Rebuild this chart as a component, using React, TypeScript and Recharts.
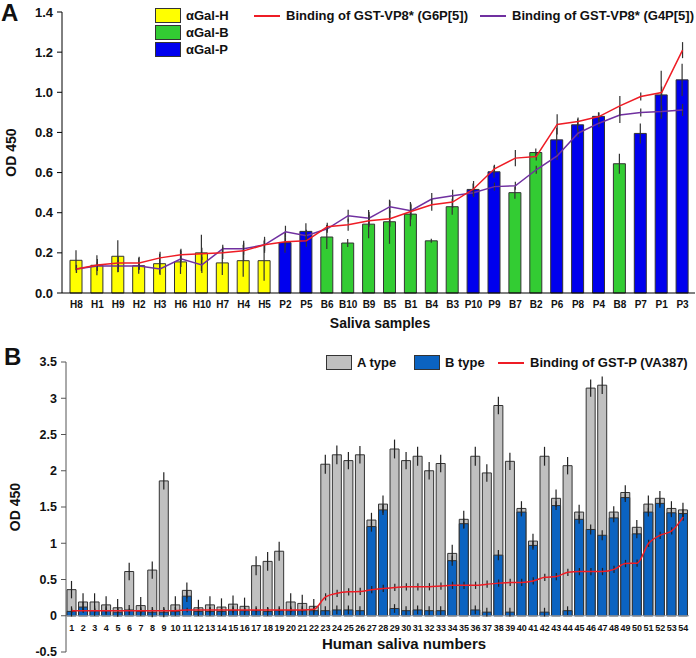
import React from "react";
import { ComposedChart, Bar, Line, XAxis, YAxis, ErrorBar, Cell, ReferenceLine, Label } from "recharts";

// ---- Panel A: saliva samples by alpha-Gal type ----
const samples = ["H8", "H1", "H9", "H2", "H3", "H6", "H10", "H7", "H4", "H5", "P2", "P5", "B6", "B10", "B9", "B5", "B1", "B4", "B3", "P10", "P9", "B7", "B2", "P6", "P8", "P4", "B8", "P7", "P1", "P3"];
const alphaGal = [0.163, 0.138, 0.183, 0.136, 0.146, 0.155, 0.2, 0.15, 0.161, 0.161, 0.251, 0.307, 0.279, 0.249, 0.343, 0.355, 0.393, 0.26, 0.43, 0.516, 0.604, 0.5, 0.7, 0.763, 0.838, 0.88, 0.644, 0.795, 0.987, 1.062];
const alphaGalErr = [0.05, 0.05, 0.08, 0.04, 0.05, 0.06, 0.09, 0.06, 0.08, 0.1, 0.05, 0.04, 0.06, 0.02, 0.07, 0.11, 0.06, 0.01, 0.04, 0.03, 0.03, 0.03, 0.02, 0.06, 0.03, 0.02, 0.05, 0.05, 0.12, 0.08];
const g6p5 = [0.12, 0.14, 0.15, 0.15, 0.175, 0.19, 0.195, 0.2, 0.21, 0.24, 0.255, 0.26, 0.33, 0.34, 0.36, 0.37, 0.406, 0.44, 0.453, 0.518, 0.619, 0.672, 0.68, 0.84, 0.854, 0.879, 0.932, 0.979, 0.999, 1.21];
const g6p5Err = [0.02, 0.03, 0.03, 0.03, 0.03, 0.03, 0.03, 0.03, 0.05, 0.04, 0.02, 0.03, 0.02, 0.03, 0.03, 0.04, 0.04, 0.03, 0.03, 0.04, 0.02, 0.04, 0.02, 0.05, 0.02, 0.02, 0.05, 0.02, 0.03, 0.04];
const g4p5 = [0.12, 0.135, 0.135, 0.135, 0.12, 0.17, 0.14, 0.22, 0.22, 0.24, 0.305, 0.285, 0.32, 0.385, 0.373, 0.43, 0.41, 0.468, 0.484, 0.5, 0.53, 0.534, 0.614, 0.683, 0.796, 0.846, 0.887, 0.899, 0.904, 0.912];
const g4p5Err = [0.02, 0.02, 0.03, 0.02, 0.03, 0.04, 0.04, 0.02, 0.03, 0.03, 0.03, 0.03, 0.02, 0.03, 0.03, 0.03, 0.03, 0.03, 0.03, 0.02, 0.02, 0.02, 0.02, 0.02, 0.02, 0.02, 0.04, 0.02, 0.03, 0.03];
const yTicksA = [0, 0.2, 0.4, 0.6, 0.8, 1.0, 1.2, 1.4];

// ---- Panel B: human saliva numbers ----
const salivaNumbers = ["1", "2", "3", "4", "5", "6", "7", "8", "9", "10", "11", "12", "13", "14", "15", "16", "17", "18", "19", "20", "21", "22", "23", "24", "25", "26", "27", "28", "29", "30", "31", "32", "33", "34", "35", "36", "37", "38", "39", "40", "41", "42", "43", "44", "45", "46", "47", "48", "49", "50", "51", "52", "53", "54"];
const aType = [0.36, 0.19, 0.19, 0.15, 0.11, 0.61, 0.14, 0.63, 1.86, 0.15, 0.35, 0.11, 0.15, 0.12, 0.16, 0.13, 0.69, 0.75, 0.89, 0.19, 0.17, 0.13, 2.09, 2.22, 2.14, 2.22, 1.32, 1.54, 2.3, 2.14, 2.2, 2.0, 2.1, 0.86, 1.33, 2.2, 1.97, 2.9, 2.13, 1.48, 1.03, 2.2, 1.62, 2.07, 1.43, 3.14, 3.18, 1.43, 1.7, 1.22, 1.54, 1.62, 1.48, 1.46];
const aTypeErr = [0.12, 0.12, 0.12, 0.12, 0.12, 0.12, 0.12, 0.12, 0.12, 0.12, 0.11, 0.11, 0.12, 0.12, 0.12, 0.12, 0.13, 0.13, 0.13, 0.12, 0.12, 0.1, 0.13, 0.13, 0.12, 0.12, 0.1, 0.12, 0.13, 0.12, 0.13, 0.12, 0.12, 0.12, 0.12, 0.13, 0.12, 0.12, 0.12, 0.1, 0.1, 0.13, 0.12, 0.12, 0.1, 0.12, 0.12, 0.08, 0.1, 0.1, 0.12, 0.1, 0.1, 0.1];
const bType = [0.06, 0.12, 0.07, 0.07, 0.05, 0.08, 0.06, 0.05, 0.05, 0.06, 0.27, 0.06, 0.06, 0.06, 0.07, 0.07, 0.07, 0.06, 0.07, 0.07, 0.07, 0.07, 0.07, 0.08, 0.08, 0.07, 1.23, 1.46, 0.1, 0.07, 0.08, 0.07, 0.07, 0.76, 1.27, 0.08, 0.05, 0.836, 0.05, 1.43, 0.97, 0.05, 1.52, 0.07, 1.33, 1.19, 1.11, 1.35, 1.63, 1.13, 1.43, 1.55, 1.42, 1.41];
const bTypeErr = [0.07, 0.07, 0.07, 0.06, 0.06, 0.07, 0.06, 0.07, 0.07, 0.06, 0.08, 0.06, 0.06, 0.06, 0.06, 0.06, 0.06, 0.06, 0.06, 0.06, 0.06, 0.06, 0.06, 0.06, 0.06, 0.06, 0.07, 0.07, 0.06, 0.06, 0.06, 0.06, 0.06, 0.07, 0.07, 0.06, 0.06, 0.07, 0.06, 0.06, 0.06, 0.06, 0.06, 0.06, 0.06, 0.07, 0.07, 0.06, 0.06, 0.06, 0.06, 0.06, 0.06, 0.06];
const va387 = [0.07, 0.07, 0.07, 0.07, 0.07, 0.07, 0.07, 0.07, 0.07, 0.07, 0.08, 0.08, 0.08, 0.08, 0.08, 0.08, 0.08, 0.08, 0.08, 0.08, 0.08, 0.09, 0.26, 0.31, 0.33, 0.335, 0.36, 0.376, 0.39, 0.4, 0.4, 0.4, 0.41, 0.42, 0.42, 0.42, 0.436, 0.45, 0.46, 0.46, 0.48, 0.53, 0.54, 0.6, 0.61, 0.61, 0.61, 0.64, 0.72, 0.725, 1.0, 1.11, 1.17, 1.36];
const va387Err = [0.03, 0.03, 0.03, 0.03, 0.03, 0.03, 0.03, 0.03, 0.03, 0.03, 0.03, 0.03, 0.03, 0.03, 0.03, 0.03, 0.03, 0.03, 0.03, 0.03, 0.03, 0.03, 0.05, 0.05, 0.05, 0.05, 0.05, 0.05, 0.05, 0.05, 0.05, 0.05, 0.05, 0.05, 0.05, 0.05, 0.05, 0.05, 0.05, 0.05, 0.05, 0.05, 0.05, 0.05, 0.05, 0.05, 0.05, 0.05, 0.05, 0.05, 0.05, 0.05, 0.05, 0.05];
const yTicksB = [-0.5, 0, 0.5, 1, 1.5, 2, 2.5, 3, 3.5];

const FONT = "Arial, 'Liberation Sans', sans-serif";
const groupColors: Record<string, string> = { H: "#ffff00", B: "#33cc33", P: "#0000ee" };
const RED = "#ee1c25";
const PURPLE = "#7030a0";
const GREY = "#c0c0c0";
const BLUE_B = "#0b63c1";

const dataA = samples.map((name, i) => ({
  name,
  value: alphaGal[i],
  valueErr: alphaGalErr[i],
  g6: g6p5[i],
  g6Err: g6p5Err[i],
  g4: g4p5[i],
  g4Err: g4p5Err[i],
}));

const dataB = salivaNumbers.map((name, i) => ({
  name,
  a: aType[i],
  aErr: aTypeErr[i],
  b: bType[i],
  bErr: bTypeErr[i],
  va: va387[i],
  vaErr: va387Err[i],
}));

// panel B geometry (x labels sit on the zero line, not at the plot bottom)
const B_TOP = 32;
const B_PLOT_H = 290;
const zeroY = B_TOP + (B_PLOT_H * 3.5) / 4;

const SalivaTick = (props: any) => {
  const { x, payload } = props;
  return (
    <text x={x} y={zeroY + 15} textAnchor="middle" fontSize={9} fontWeight="bold" fill="#111" fontFamily={FONT}>
      {payload.value}
    </text>
  );
};

const Box = ({ color }: { color: string }) => (
  <span style={{ display: "inline-block", width: 24, height: 13, background: color, border: "1px solid #333", marginRight: 5 }} />
);
const Dash = ({ color }: { color: string }) => (
  <span style={{ display: "inline-block", width: 26, height: 2, background: color, marginRight: 6, verticalAlign: "middle" }} />
);

const legendText: React.CSSProperties = { fontFamily: FONT, fontWeight: "bold", fontSize: 13, color: "#111", position: "absolute", display: "flex", alignItems: "center", whiteSpace: "nowrap" };

export default function App() {
  return (
    <div style={{ position: "absolute", left: 0, top: 0, width: 696, height: 658, background: "#fff", fontFamily: FONT }}>
      <div style={{ position: "absolute", left: 0, top: 0, width: 696, height: 330 }}>
        <ComposedChart width={696} height={330} data={dataA} margin={{ top: 12, right: 1, left: 0, bottom: 0 }}>
          <XAxis
            dataKey="name"
            height={37}
            interval={0}
            padding={{ left: 4, right: 2 }}
            tickLine={false}
            stroke="#000"
            tick={{ fontSize: 10, fontWeight: "bold", fill: "#111", fontFamily: FONT }}
          />
          <YAxis
            width={62}
            domain={[0, 1.4]}
            ticks={yTicksA}
            interval={0}
            tickSize={5}
            tickMargin={4}
            stroke="#000"
            tickFormatter={(v: number) => v.toFixed(1)}
            tick={{ fontSize: 13, fontWeight: "bold", fill: "#111", fontFamily: FONT }}
          >
            <Label value="OD 450" angle={-90} position="insideLeft" offset={11} style={{ textAnchor: "middle", fontSize: 14, fontWeight: "bold", fill: "#111", fontFamily: FONT }} />
          </YAxis>
          <Bar dataKey="value" barSize={12} stroke="#333" strokeWidth={1} isAnimationActive={false}>
            {dataA.map((d) => (
              <Cell key={d.name} fill={groupColors[d.name[0]]} />
            ))}
            <ErrorBar dataKey="valueErr" width={0} stroke="#333" strokeWidth={1.2} />
          </Bar>
          <Line dataKey="g4" type="linear" stroke={PURPLE} strokeWidth={1.5} dot={false} isAnimationActive={false}>
            <ErrorBar dataKey="g4Err" width={0} stroke="#333" strokeWidth={1.2} />
          </Line>
          <Line dataKey="g6" type="linear" stroke={RED} strokeWidth={1.5} dot={false} isAnimationActive={false}>
            <ErrorBar dataKey="g6Err" width={0} stroke="#333" strokeWidth={1.2} />
          </Line>
        </ComposedChart>
      </div>

      <div style={{ position: "absolute", left: 0, top: 330, width: 696, height: 328 }}>
        <ComposedChart width={696} height={328} data={dataB} barGap={-9} margin={{ top: B_TOP, right: 7, left: 0, bottom: 5 }}>
          <XAxis dataKey="name" height={1} interval={0} axisLine={false} tickLine={false} tick={<SalivaTick />} />
          <YAxis
            width={66}
            domain={[-0.5, 3.5]}
            ticks={yTicksB}
            interval={0}
            tickSize={5}
            tickMargin={4}
            stroke="#555"
            tick={{ fontSize: 12.5, fontWeight: "bold", fill: "#111", fontFamily: FONT }}
          >
            <Label value="OD 450" angle={-90} position="insideLeft" offset={15} style={{ textAnchor: "middle", fontSize: 14, fontWeight: "bold", fill: "#111", fontFamily: FONT }} />
          </YAxis>
          <ReferenceLine y={0} stroke="#8a9bb0" strokeWidth={1} />
          <Bar dataKey="a" barSize={9} fill={GREY} stroke="#333" strokeWidth={1} isAnimationActive={false}>
            <ErrorBar dataKey="aErr" width={0} stroke="#222" strokeWidth={1.2} />
          </Bar>
          <Bar dataKey="b" barSize={9} fill={BLUE_B} stroke="#333" strokeWidth={1} isAnimationActive={false}>
            <ErrorBar dataKey="bErr" width={0} stroke="#222" strokeWidth={1.2} />
          </Bar>
          <Line dataKey="va" type="monotone" stroke={RED} strokeWidth={1.5} dot={false} isAnimationActive={false}>
            <ErrorBar dataKey="vaErr" width={0} stroke="#222" strokeWidth={1.2} />
          </Line>
        </ComposedChart>
      </div>

      {/* panel letters and axis titles */}
      <div style={{ position: "absolute", left: 1, top: 1, fontSize: 24, lineHeight: "24px", fontWeight: "bold", color: "#111" }}>A</div>
      <div style={{ position: "absolute", left: 4, top: 345, fontSize: 24, lineHeight: "24px", fontWeight: "bold", color: "#111" }}>B</div>
      <div style={{ position: "absolute", left: 318, top: 315, width: 124, textAlign: "center", fontSize: 14, fontWeight: "bold", color: "#111" }}>Saliva samples</div>
      <div style={{ position: "absolute", left: 300, top: 635, width: 208, textAlign: "center", fontSize: 15, fontWeight: "bold", color: "#111" }}>Human saliva numbers</div>

      {/* legend A */}
      <div style={{ ...legendText, left: 155, top: 8 }}><Box color={groupColors.H} />αGal-H</div>
      <div style={{ ...legendText, left: 155, top: 25 }}><Box color={groupColors.B} />αGal-B</div>
      <div style={{ ...legendText, left: 155, top: 42 }}><Box color={groupColors.P} />αGal-P</div>
      <div style={{ ...legendText, left: 254, top: 8 }}><Dash color={RED} />Binding of GST-VP8* (G6P[5])</div>
      <div style={{ ...legendText, left: 480, top: 8 }}><Dash color={PURPLE} />Binding of GST-VP8* (G4P[5])</div>

      {/* legend B */}
      <div style={{ ...legendText, left: 326, top: 355 }}><Box color={GREY} />A type</div>
      <div style={{ ...legendText, left: 414, top: 355 }}><Box color={BLUE_B} />B type</div>
      <div style={{ ...legendText, left: 498, top: 355 }}><Dash color={RED} />Binding of GST-P (VA387)</div>
    </div>
  );
}
